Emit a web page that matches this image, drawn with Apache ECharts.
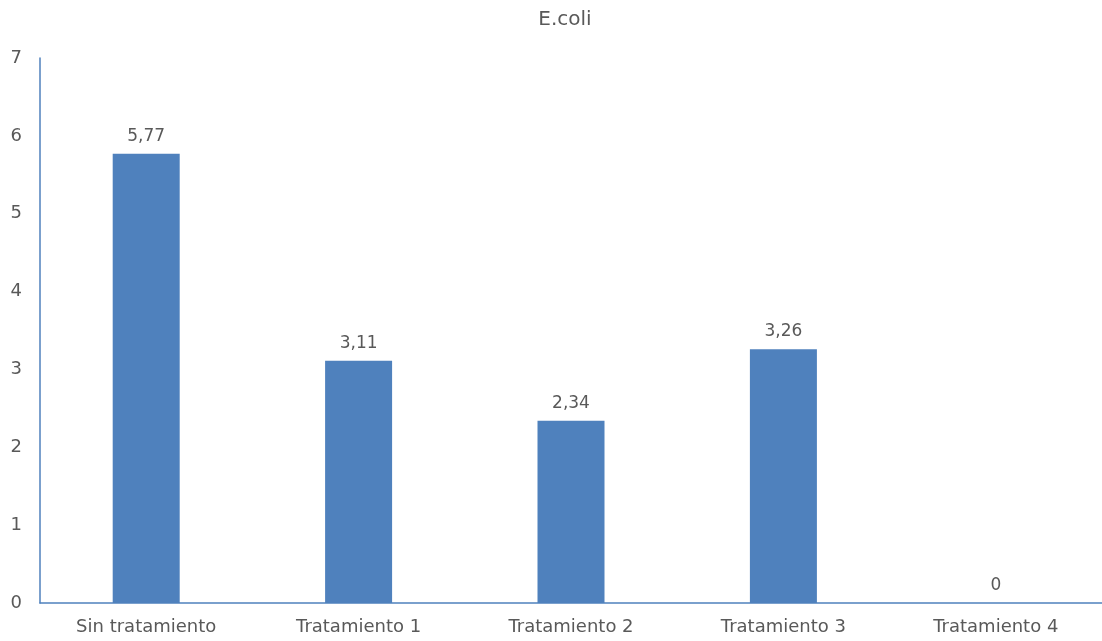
<!DOCTYPE html>
<html>
<head>
<meta charset="utf-8">
<script src="https://cdn.jsdelivr.net/npm/echarts@6/dist/echarts.min.js"></script>
<style>
  html, body { margin: 0; padding: 0; background: #ffffff; }
  #chart { width: 1102px; height: 641px; }
</style>
</head>
<body>
<div id="chart"></div>
<script>
const categories = ['Sin tratamiento', 'Tratamiento 1', 'Tratamiento 2', 'Tratamiento 3', 'Tratamiento 4'];
const values = [5.77, 3.11, 2.34, 3.26, 0];
const yTicks = [0, 1, 2, 3, 4, 5, 6, 7];

const FONT = '"DejaVu Sans", sans-serif';
const TEXT = '#595959';
const BLUE = '#4F81BD';

const chart = echarts.init(document.getElementById('chart'), null, { renderer: 'canvas' });
chart.setOption({
  animation: false,
  backgroundColor: '#ffffff',
  title: {
    text: 'E.coli',
    left: 560,
    textAlign: 'center',
    top: 5,
    textStyle: { fontFamily: FONT, fontSize: 20, fontWeight: 'normal', color: TEXT }
  },
  grid: { left: 40, top: 58, width: 1070, height: 545, containLabel: false },
  xAxis: {
    type: 'category',
    data: categories,
    axisLine: { show: true, lineStyle: { color: BLUE, width: 1.5 } },
    axisTick: { show: false },
    axisLabel: { color: TEXT, fontFamily: FONT, fontSize: 18, margin: 15, interval: 0 }
  },
  yAxis: {
    type: 'value',
    min: yTicks[0],
    max: yTicks[yTicks.length - 1],
    interval: 1,
    axisLine: { show: true, lineStyle: { color: BLUE, width: 1.5 } },
    axisTick: { show: false },
    splitLine: { show: false },
    axisLabel: { color: TEXT, fontFamily: FONT, fontSize: 18, margin: 18 }
  },
  series: [{
    type: 'bar',
    data: values,
    barWidth: 67,
    itemStyle: { color: BLUE },
    label: {
      show: true,
      position: 'top',
      distance: 9,
      color: TEXT,
      fontFamily: FONT,
      fontSize: 17,
      formatter: p => String(p.value).replace('.', ',')
    }
  }]
});
</script>
</body>
</html>
